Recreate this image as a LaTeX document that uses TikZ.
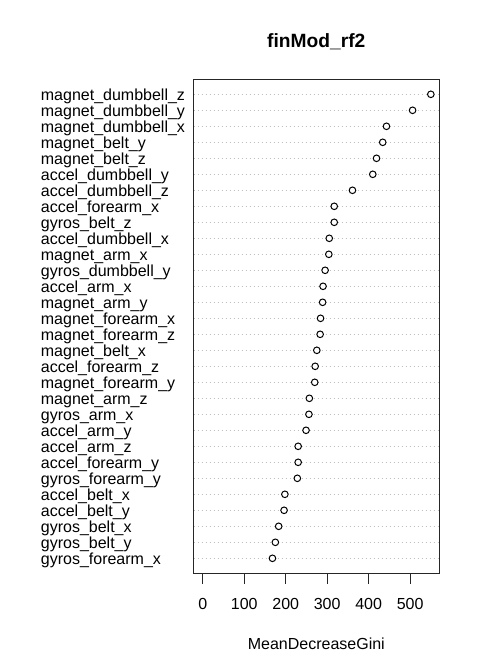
\documentclass[tikz,border=0pt]{standalone}
\usepackage{fontspec}
\setmainfont{Liberation Sans}
\definecolor{rgray}{RGB}{190,190,190}
\begin{document}
\begin{tikzpicture}[x=1pt,y=-1pt,
  lab/.style={anchor=base west,inner sep=0pt,font=\fontsize{16}{16}\selectfont},
  ticklab/.style={anchor=base,inner sep=0pt,font=\fontsize{16}{16}\selectfont},
  titlelab/.style={anchor=base,inner sep=0pt,font=\fontsize{19.2}{19.2}\selectfont\bfseries},
  dotpt/.style={circle,draw=black,line width=1pt,minimum size=6.6pt,inner sep=0pt,fill=white},
  gridline/.style={draw=rgray,dash pattern=on 1pt off 3pt,line width=0.9pt},
  frame/.style={draw=black!85,line width=1pt},
  tickline/.style={draw=black!85,line width=1pt}
]
\useasboundingbox (0,0) rectangle (480,672);
\fill[white] (0,0) rectangle (480,672);
\coordinate (boxtl) at (193.5,79);
\coordinate (boxbr) at (439,573.3);
\foreach \i/\v/\t in {
 1/550/magnet\_dumbbell\_z,
 2/506/magnet\_dumbbell\_y,
 3/443/magnet\_dumbbell\_x,
 4/434/magnet\_belt\_y,
 5/419/magnet\_belt\_z,
 6/410/accel\_dumbbell\_y,
 7/361/accel\_dumbbell\_z,
 8/317/accel\_forearm\_x,
 9/317/gyros\_belt\_z,
 10/305/accel\_dumbbell\_x,
 11/304/magnet\_arm\_x,
 12/295/gyros\_dumbbell\_y,
 13/290/accel\_arm\_x,
 14/289/magnet\_arm\_y,
 15/284/magnet\_forearm\_x,
 16/283/magnet\_forearm\_z,
 17/275/magnet\_belt\_x,
 18/271/accel\_forearm\_z,
 19/270/magnet\_forearm\_y,
 20/257/magnet\_arm\_z,
 21/256/gyros\_arm\_x,
 22/249/accel\_arm\_y,
 23/230/accel\_arm\_z,
 24/230/accel\_forearm\_y,
 25/228/gyros\_forearm\_y,
 26/198/accel\_belt\_x,
 27/196/accel\_belt\_y,
 28/183/gyros\_belt\_x,
 29/175/gyros\_belt\_y,
 30/168/gyros\_forearm\_x}{
  \pgfmathsetmacro\yy{94.3+16*(\i-1)}
  \pgfmathsetmacro\xx{202.8+0.4146*\v}
  \coordinate (gl\i) at (193.5,\yy);
  \coordinate (gr\i) at (439,\yy);
  \draw[gridline] (gl\i) -- (gr\i);
  \node[lab] (l\i) at (40.7,\yy+5.8) {\t};
  \node[dotpt] (p\i) at (\xx,\yy) {};
}
\draw[frame] (boxtl) rectangle (boxbr);
\foreach \v in {0,100,200,300,400,500}{
  \pgfmathsetmacro\xx{202.8+0.4146*\v}
  \coordinate (ta\v) at (\xx,573.3);
  \coordinate (tb\v) at (\xx,584);
  \draw[tickline] (ta\v) -- (tb\v);
  \node[ticklab] (tl\v) at (\xx,609) {\v};
}
\node[titlelab] (title) at (316.3,47.3) {finMod\_rf2};
\node[ticklab] (xlab) at (316.3,649.3) {MeanDecreaseGini};
\end{tikzpicture}
\end{document}
